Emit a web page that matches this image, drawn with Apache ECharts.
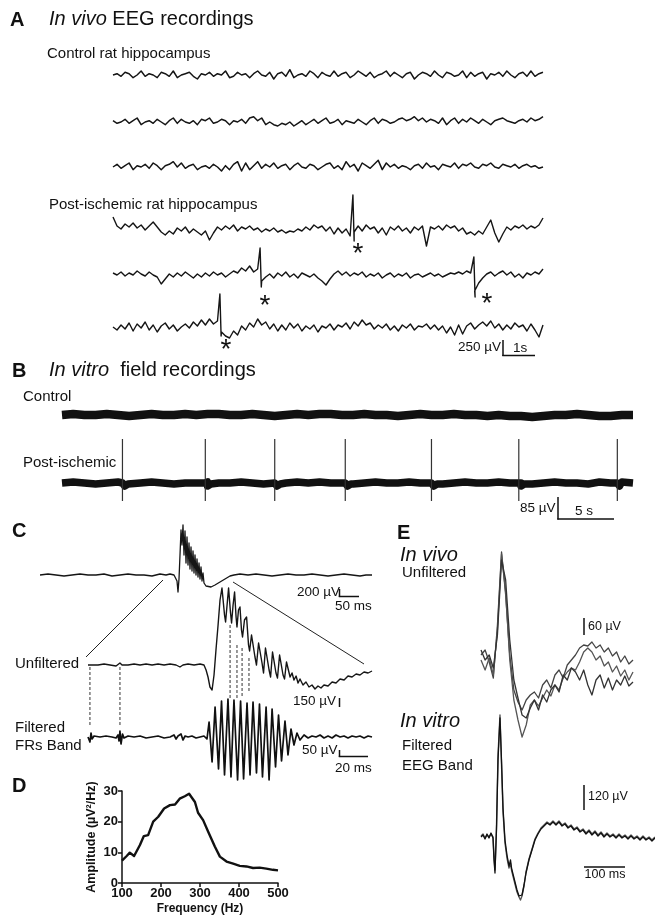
<!DOCTYPE html>
<html><head><meta charset="utf-8">
<script src="https://cdn.jsdelivr.net/npm/echarts@6/dist/echarts.min.js"></script>
<style>html,body{margin:0;padding:0;background:#fff}#c{width:655px;height:915px}</style>
</head><body><div id="c"></div>
<script>
// ---------------- DATA ----------------
// Panel A: in vivo EEG, 108 samples per trace (~13.4 s), amplitude offsets from baseline
const ctrlA1 = [0,1,-1,2,1,-2,0,3,-1,1,0,-2, 2,1,-1,3,-2,0,1,2,-1,-3,1,0, 2,-1,1,0,3,-2,-1,2,0,1,-2,1,
  3,0,-1,2,-3,1,2,-1,4,-2,0,1, -1,3,1,-2,2,0,-1,3,-1,1,2,-2, 0,3,1,-1,2,-2,0,1,3,-1,2,0,
  -2,1,2,-3,0,2,1,-1,3,0,-2,2, 1,-1,0,3,-2,2,-1,1,2,-3,1,0, 2,-1,3,0,-2,1,2,-1,3,-1,1,2];
const ctrlA2 = [1,-1,0,2,-1,1,3,-2,0,1,-1,2, 0,-2,1,3,-1,2,0,-1,1,-2,2,1, 3,-1,0,2,1,-2,1,0,2,-1,3,4,
  1,3,-2,0,-2,-3,-1,-2,0,-3,-1,1, -2,0,2,-1,1,3,-1,0,2,-2,1,0, -1,2,0,-2,1,3,-1,2,1,-1,0,2,
  3,1,2,4,1,3,0,2,1,-1,3,-2, 1,3,-1,2,0,3,1,-1,2,0,-2,1, 2,3,1,0,-1,1,2,0,3,1,2,4];
const ctrlA3 = [0,2,-1,1,3,-2,1,0,2,-1,3,1, -2,1,2,4,0,3,-1,1,2,-2,0,1, -1,2,0,-3,1,-2,2,4,-3,3,-2,1,
  4,-1,2,0,3,-1,1,2,-2,1,3,0, -1,2,1,-2,0,2,3,-1,1,-2,4,0, 2,-3,3,1,-1,2,5,-2,3,0,2,-1,
  1,0,-2,1,2,-1,3,0,1,-2,2,1, 0,3,-1,2,1,3,0,-1,2,1,3,0, -1,2,1,0,2,-1,1,2,0,1,-1,0];
const postA1 = [12,3,0,5,2,6,1,4,-1,3,7,2, -3,-6,-2,-5,1,-2,2,-4,0,-3,-6,-2, -11,-4,2,-1,3,0,4,-2,2,0,3,-1,
  1,-3,0,-2,1,-3,-1,-4,-2,-3,0,-2, 2,-1,4,1,3,-2,2,-5,1,-4,0,-7, -3,3,-2,4,0,2,-4,1,-6,2,-1,3,
  -2,1,-4,2,-1,3,-17,2,0,3,-1,4, 1,3,-2,1,-5,-3,-6,-2,-5,2,9,-4, -13,-5,2,-1,3,1,4,0,3,1,4,11];
const postA2 = [2,0,3,-1,2,0,4,1,-1,3,0,-2, -9,-4,1,-2,2,-1,3,0,-3,1,-2,2, -1,3,0,2,-2,1,4,2,7,4,9,3,
  6,-6,-2,1,-3,2,-1,3,-2,1,-3,2, 0,-2,1,-3,-6,-10,-4,1,4,0,3,-1, 2,0,3,-2,1,-1,2,-3,0,2,-2,1,
  -1,2,-3,0,1,-2,0,2,-1,1,-2,0, 2,1,3,1,4,2,-16,-8,-3,1,3,-1, 2,4,0,3,-2,1,-3,2,0,3,1,6];
const postA3 = [1,-2,3,-1,5,-3,4,0,6,-2,3,-4, 2,5,-1,3,-3,1,4,0,6,2,8,3, 9,4,7,-4,-8,-10,-3,-7,2,-2,5,1,
  9,3,6,-1,4,-3,3,-2,5,0,4,-3, 2,-1,3,-4,2,0,4,-2,3,1,5,-1, 6,2,8,3,5,-1,3,0,4,-2,2,-3,
  3,0,4,-2,2,1,4,-1,3,-2,2,-5, 1,-7,3,-6,2,5,-1,3,6,2,7,0, 4,-2,3,-1,5,1,3,-3,4,-2,-9,3];
// interictal spikes (*): [sample position, peak, trough]
const postA1Spikes = [[59.7, 34, -12]];
const postA2Spikes = [[36.6, 27, -12], [89.8, 18, -22]];
const postA3Spikes = [[26.6, 34, -8]];

// Panel B: in vitro field recordings, one value per second (0..51 s)
const ctrlB = [0,1,0,0,1,0,-1,0,1,0, 0,1,0,1,1,0,0,1,0,-1, 0,1,0,1,1,0,0,1,0,0, -1,0,1,0,0,1,0,0,-1,0, -1,-1,-2,-1,0,0,1,0,-1,-1, 0,0];
const postB = [0,1,0,-1,0,1,0,0,1,0, -1,0,0,1,0,0,1,0,-1,0, 0,1,0,1,0,0,-1,0,1,0, 0,1,0,0,-1,0,1,0,0,1, 0,0,-1,0,1,0,0,-1,1,0, 1,0];
const bSpikeT = [5.4, 12.8, 19.0, 25.3, 33.0, 40.8, 49.6];
const bSpikeTop = [44, 44, 44, 44, 44, 44, 44];
const bSpikeBottom = [-18, -18, -18, -18, -18, -18, -18];

// Panel C: fast ripple event (time in ms)
const cTopT = [0,20,40,60,80,100,120,140,160,180,200,220,240,260,280,300,315,325,335,
  340,342.5,345,347.5,350,352.5,355,357.5,360,362.5,365,367.5,370,372.5,375,377.5,380,382.5,385,387.5,390,392.5,395,397.5,400,402.5,405,407.5,410,412.5,415,
  420,427.5,437.5,450,462.5,475,485,
  500,520,540,560,580,600,620,640,660,680,700,720,740,760,780,800,815,830];
const cTopV = [0,1,0,-1,0,1,0,0,1,-1,0,1,0,0,-1,1,0,1,0,
  0,-6,-17,-4,20,45,30,50,20,44,12,38,10,32,6,28,4,24,2,20,0,16,-2,12,-4,8,-6,2,-8,-6,-11,
  -13,-12,-10,-7,-4,-1,0,
  1,0,1,0,-1,0,1,0,0,1,0,-1,0,1,0,-1,0,0];
const cUnfT = [0,1.3,2.7,6.7,10.7,14.7,18.7,21.3,22.7,26.7,30.7,34.7,38.7,42.7,46.7,50.7,54.7,58.7,61.3,63.3,66.7,70.7,74.7,77.3,
  78.7,80,81.3,82.7,84,85.3,86.7,88,89.3,91,91.7,92.7,93.7,95,95.7,96.7,97.7,98.7,99.3,100.3,101.3,102.3,103,104.3,105.7,
  107,107.7,109,110,111.3,112.3,113.7,114.7,116,117,118.3,119.3,120.7,121.7,123,124,125.3,126.3,127.7,128.7,
  130,131,132.3,133.3,134.7,136,137.3,138.7,140,141.3,143.3,145.3,147.3,149.3,151.3,153.3,155.3,157.3,160,162.7,
  165.3,168,170.7,173.3,176,178.7,181.3,184,186.7,189.3];
const cUnfV = [0,2,0,0,1,0,-1,2,0,0,1,0,1,0,1,0,1,0,-2,0,1,0,1,0,
  -5,-12,-22,-25,-10,15,40,65,77,50,43,60,77,52,42,60,73,48,38,55,58,35,28,45,48,
  20,14,30,32,8,0,22,24,2,-8,17,19,-5,-12,13,14,-8,-13,10,11,
  -10,-14,3,2,-12,-8,-15,-11,-18,-14,-20,-17,-22,-20,-24,-21,-23,-20,-21,-17,
  -18,-14,-15,-11,-12,-9,-10,-7,-8,-6];
const cFiltT = [0,0.7,1.3,2,2.7,4,5.3,8,12,16,18.7,20,20.7,21.3,22,23,24,26.7,30.7,34.7,38.7,42.7,46.7,50.7,54.7,57.3,58.7,60,62,63.3,64.7,66.7,69.3,72,74.7,77.3,79.3,
  80.7,82.7,84.7,87,89,91,93.3,95.3,97.3,99.7,101.7,103.7,106,108,110,112.3,114.3,116.3,118.7,120.7,122.7,125,127,129,131.3,133.3,135.3,137.3,139.3,141.3,
  144,146.7,149.3,152,154.7,157.3,160,162.7,165.3,168,170.7,173.3,176,178.7,181.3,184,186.7,189.3];
const cFiltV = [0,2,-5,4,-2,1,-1,0,1,0,-1,2,-4,6,-7,3,-1,1,0,1,-1,0,1,-1,0,2,-2,1,3,-3,1,0,1,-1,0,1,-2,
  15,-25,30,-32,36,-38,38,-40,37,-43,36,-42,34,-38,35,-36,33,-40,30,-43,28,-30,22,-24,16,-18,8,-8,4,-3,
  2,-1,1,0,2,-1,1,-1,2,0,1,-1,1,0,1,-1,1,0];
// dashed guides between unfiltered peaks and filtered trace
const cDashT = [1.3, 21.3, 94.7, 99.3, 102.7, 107.3];
const cDashTop = [18, 18, 60, 40, 37, 27];
const cDashBottom = [-40, -40, -13, -13, -12, -8];

// Panel D: power spectrum
const dFreq = [100,112,120,131,146,156,167,180,193,208,223,236,248,261,272,287,295,308,321,338,351,368,385,402,419,436,453,470,487,500];
const dAmp = [7.3,8.8,9.9,8.8,12.4,15.3,15.6,20,21.6,24.3,25.4,25.6,27.5,28.3,29.1,26.4,22.9,20.5,16.7,11.9,8.6,7,6.3,5.6,5.4,4.9,5,4.7,4.3,4.1];

// Panel E: averaged waveforms (in vivo: 10 ms per sample)
const eVivo1 = [-15,-10,-22,-38,15,88,45,-15,-50,-62, -70,-60,-55,-52,-58,-45,-40,-48,-35,-30, -38,-25,-20,-15,-8,-5,-6,-2,-8,-5, -12,-8,-16,-12,-22,-16,-24,-20];
const eVivo2 = [-20,-30,-18,-35,10,86,48,-20,-60,-80, -97,-85,-65,-60,-66,-58,-50,-56,-45,-50, -38,-32,-28,-30,-22,-12,-8,-12,-20,-16, -26,-22,-32,-26,-36,-30,-40,-32];
const eVivo3 = [-10,-20,-15,-28,5,80,60,0,-40,-58, -75,-78,-68,-60,-70,-55,-62,-50,-45,-52, -35,-40,-28,-32,-40,-30,-45,-55,-40,-35, -48,-38,-50,-40,-45,-36,-46,-42];
const eVitroT = [0,4.9,9.8,14.6,19.5,24.4,29.3,31.7,34.1,37.8,41.5,46.3,50,53.7,58.5,63.4,68.3,72,74.4,78,82.9,87.8,92.7,96.3,100,104.9,109.8,117,124.4,131.7,
  139,146.3,153.7,161,168.3,175.6,182.9,190.2,197.6,204.9,212.2,219.5,226.8,234.1,241.5,248.8,256.1,263.4,270.7,278,285.4,292.7,300,307.3,314.6,322,329.3,336.6,343.9,351.2,
  358.5,365.9,373.2,380.5,387.8,395.1,402.4,409.8,417,424.4];
const eVitroA = [-27,-25,-29,-24,-28,-23,-28,-50,-63,-20, 50,92,50,2,-30, -45,-56,-50,-58,-64, -72,-80,-86,-88,-85, -75,-63,-50,-40,-30,
  -24,-19,-16,-13,-15, -12,-15,-12,-16,-14, -18,-16,-20,-18,-22, -20,-24,-21,-25,-22, -26,-23,-27,-24,-27, -25,-28,-25,-28,-26, -29,-26,-29,-27,-30, -27,-30,-28,-31,-28];
const eVitroB = [-26,-24,-28,-25,-27,-24,-27,-46,-60,-16, 55,95,46,-2,-33, -48,-58,-53,-60,-66, -74,-82,-87,-90,-86, -76,-62,-49,-39,-29,
  -23,-18,-15,-12,-14, -11,-14,-11,-15,-13, -17,-15,-19,-17,-21, -19,-23,-20,-24,-21, -25,-22,-26,-23,-26, -24,-27,-24,-27,-25, -28,-25,-28,-26,-29, -26,-29,-27,-30,-27];

// ---------------- BUILD ----------------
const FONT = '"Liberation Sans", Arial, Helvetica, sans-serif';
const INK = '#111';
const grids = [], xAxes = [], yAxes = [], series = [];
function addGrid(g, xr, yr, xo, yo) {
  const idx = grids.length;
  grids.push(Object.assign({ containLabel: false, outerBoundsMode: 'none' }, g));
  xAxes.push(Object.assign({ gridIndex: idx, type: 'value', min: xr[0], max: xr[1], show: false }, xo || {}));
  yAxes.push(Object.assign({ gridIndex: idx, type: 'value', min: yr[0], max: yr[1], show: false }, yo || {}));
  return idx;
}
function line(idx, data, color, width, extra) {
  series.push(Object.assign({ type: 'line', xAxisIndex: idx, yAxisIndex: idx, data: data, showSymbol: false, symbol: 'none',
    silent: true, animation: false, lineStyle: { color: color, width: width, join: 'round' } }, extra || {}));
}
const zip = (t, v, off) => t.map((x, i) => [x, v[i] + (off || 0)]);

// A
function aTrace(vals, spikes) {
  const out = [];
  vals.forEach((v, i) => {
    out.push([i, v]);
    spikes.forEach(s => { if (s[0] > i && s[0] < i + 1) { out.push([s[0], s[1]]); out.push([s[0] + 0.3, s[2]]); } });
  });
  return out;
}
// [values, spikes, baseline y, half-range (smaller = taller trace), line width]
const aRows = [[ctrlA1, [], 75, 30, 1.5], [ctrlA2, [], 122, 30, 1.5], [ctrlA3, [], 167, 30, 1.5],
  [postA1, postA1Spikes, 229, 40, 1.4], [postA2, postA2Spikes, 275, 40, 1.4], [postA3, postA3Spikes, 328, 40, 1.4]];
aRows.forEach(r => {
  const g = addGrid({ left: 113, width: 430, top: r[2] - 40, height: 80 }, [0, 107], [-r[3], r[3]]);
  line(g, aTrace(r[0], r[1]), '#151515', r[4]);
});

// B
const gB1 = addGrid({ left: 62, width: 571, top: 395, height: 40 }, [0, 51], [-20, 20]);
line(gB1, ctrlB.map((v, t) => [t, v]), INK, 8.5);
const gB2 = addGrid({ left: 62, width: 571, top: 433, height: 100 }, [0, 51], [-50, 50]);
const postBand = postB.map((v, t) => [t, v]);
bSpikeT.forEach(t => { postBand.push([t, 0]); postBand.push([t + 0.2, -3]); postBand.push([t + 0.5, -1]); });
postBand.sort((a, b) => a[0] - b[0]);
line(gB2, postBand, INK, 7.5);
bSpikeT.forEach((t, i) => line(gB2, [[t, bSpikeTop[i]], [t, bSpikeBottom[i]]], '#333', 1.2));

// C
const gC1 = addGrid({ left: 40, width: 332, top: 515, height: 100 }, [0, 830], [-40, 60]);
line(gC1, zip(cTopT, cTopV), '#151515', 1.3);
const gC2 = addGrid({ left: 88, width: 284, top: 580, height: 210 }, [0, 189.3], [-105, 105]);
line(gC2, zip(cUnfT, cUnfV, 20), '#151515', 1.4);
line(gC2, zip(cFiltT, cFiltV, -52), '#111', 1.7);
cDashT.forEach((t, i) => line(gC2, [[t, cDashTop[i]], [t, cDashBottom[i]]], '#333', 1, { lineStyle: { color: '#333', width: 1, type: [3, 2] } }));

// D
const axisTxt = { color: INK, fontWeight: 'bold', fontSize: 13, fontFamily: FONT };
const gD = addGrid({ left: 122, width: 156, top: 791, height: 92 }, [100, 500], [0, 30],
  { show: true, interval: 100, axisLine: { show: true, onZero: false, lineStyle: { color: INK, width: 1.5 } },
    axisTick: { show: true, length: 4, lineStyle: { color: INK, width: 1.5 } }, splitLine: { show: false },
    axisLabel: Object.assign({ margin: 4, fontSize: 12.5 }, axisTxt),
    name: 'Frequency (Hz)', nameLocation: 'middle', nameGap: 20,
    nameTextStyle: { color: INK, fontWeight: 'bold', fontSize: 12, fontFamily: FONT } },
  { show: true, interval: 10, axisLine: { show: true, onZero: false, lineStyle: { color: INK, width: 1.5 } },
    axisTick: { show: true, length: 4, lineStyle: { color: INK, width: 1.5 } }, splitLine: { show: false },
    axisLabel: Object.assign({ margin: 4 }, axisTxt),
    name: 'Amplitude (µV²/Hz)', nameLocation: 'middle', nameGap: 24,
    nameTextStyle: { color: INK, fontWeight: 'bold', fontSize: 12.5, fontFamily: FONT } });
line(gD, zip(dFreq, dAmp), INK, 2.4);

// E
const gE1 = addGrid({ left: 481, width: 152, top: 530, height: 220 }, [0, 370], [-110, 110]);
[[eVivo1, '#444'], [eVivo2, '#555'], [eVivo3, '#333']].forEach(r => line(gE1, r[0].map((v, i) => [i * 10, v]), r[1], 1.3));
const gE2 = addGrid({ left: 481, width: 174, top: 710, height: 200 }, [0, 424.4], [-100, 100]);
line(gE2, zip(eVitroT, eVitroB), '#555', 1.4);
line(gE2, zip(eVitroT, eVitroA), '#111', 1.3);

// ---------------- TEXT & SCALE BARS ----------------
const gfx = [];
function T(text, x, base, size, o) {
  o = o || {};
  const st = { text: text, x: x, y: base - 0.3465 * size, fill: o.fill || INK, fontSize: size, fontFamily: FONT,
    fontWeight: o.weight || 'normal', fontStyle: o.style || 'normal', align: o.align || 'left', verticalAlign: 'middle' };
  if (o.rich) st.rich = o.rich;
  gfx.push({ type: 'text', silent: true, z: 100, style: st });
}
function L(x1, y1, x2, y2, w, c) {
  gfx.push({ type: 'line', silent: true, z: 100, shape: { x1: x1, y1: y1, x2: x2, y2: y2 }, style: { stroke: c || INK, lineWidth: w || 1.5 } });
}
const ital = { i: { fontStyle: 'italic', fontSize: 20, fontFamily: FONT, fill: INK } };
// A
T('A', 10, 27, 20, { weight: 'bold' });
T('{i|In vivo} EEG recordings', 49, 26, 20, { rich: ital });
T('Control rat hippocampus', 47, 59, 15);
T('Post-ischemic rat hippocampus', 49, 210, 15);
[[358, 248], [265, 300], [487, 298], [226, 344]].forEach(p => T('*', p[0], p[1] + 16, 28, { align: 'center' }));
T('250 µV', 458, 352, 13.5);
T('1s', 513, 353, 13.5);
L(503, 340, 503, 356); L(502.3, 355.5, 535, 355.5);
// B
T('B', 12, 378, 20, { weight: 'bold' });
T('{i|In vitro}  field recordings', 49, 377, 20, { rich: ital });
T('Control', 23, 402, 15);
T('Post-ischemic', 23, 468, 15);
T('85 µV', 520, 513, 13.5);
T('5 s', 575, 516, 13.5);
L(558, 497, 558, 519.5); L(557.3, 519, 614, 519);
// C
T('C', 12, 538, 20, { weight: 'bold' });
T('200 µV', 297, 597, 13.5);
T('50 ms', 335, 611, 13.5);
L(339.5, 589, 339.5, 597); L(338.8, 596.5, 359, 596.5);
L(163, 580, 86, 657, 1, '#222'); L(233, 582, 364, 664, 1, '#222');
T('Unfiltered', 15, 669, 15);
T('150 µV', 293, 706, 13.5);
L(339.5, 698, 339.5, 707);
T('Filtered', 15, 733, 15);
T('FRs Band', 15, 751, 15);
T('50 µV', 302, 755, 13.5);
T('20 ms', 335, 773, 13.5);
L(339.5, 750, 339.5, 757); L(338.8, 756.5, 368, 756.5);
// D
T('D', 12, 793, 20, { weight: 'bold' });
// E
T('E', 397, 540, 20, { weight: 'bold' });
T('In vivo', 400, 562, 20, { style: 'italic' });
T('Unfiltered', 402, 578, 15);
T('In vitro', 400, 728, 20, { style: 'italic' });
T('Filtered', 402, 751, 15);
T('EEG Band', 402, 771, 15);
T('60 µV', 588, 631, 12.5);
L(584, 618, 584, 635);
T('120 µV', 588, 801, 12.5);
L(584, 785, 584, 810);
L(584, 867, 625, 867);
T('100 ms', 605, 879, 12.5, { align: 'center' });

const chart = echarts.init(document.getElementById('c'), null, { renderer: 'canvas' });
chart.setOption({ animation: false, backgroundColor: '#fff', grid: grids, xAxis: xAxes, yAxis: yAxes, series: series, graphic: gfx });
</script></body></html>
